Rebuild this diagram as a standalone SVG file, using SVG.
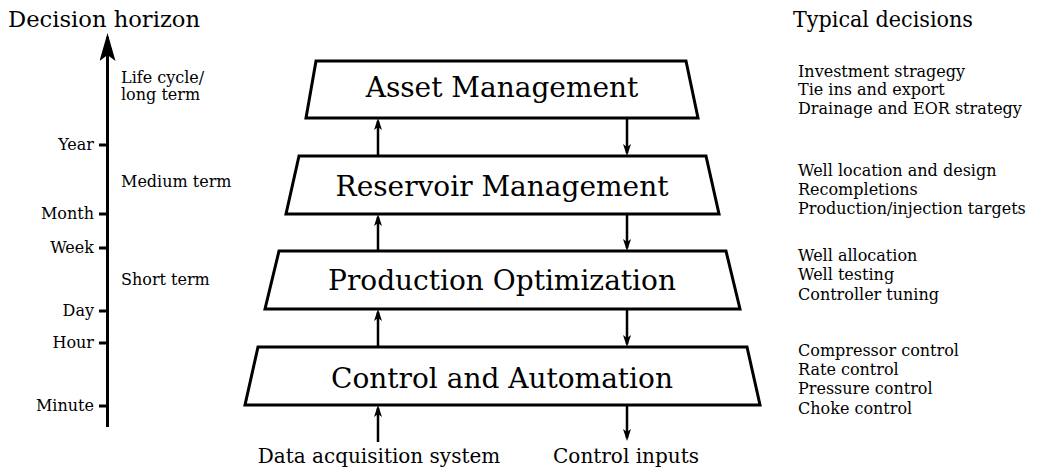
<svg xmlns="http://www.w3.org/2000/svg" width="1044" height="472" viewBox="0 0 1044 472">
<defs>
<style>
text{font-family:"DejaVu Serif","Liberation Serif",serif;fill:#000}
.title{font-size:22.5px}
.box{fill:#fff;stroke:#000;stroke-width:3;stroke-linejoin:miter}
.bt{font-size:28px;text-anchor:middle}
.sm{font-size:16px}
.tl{font-size:16px;text-anchor:end}
.io{font-size:20px;text-anchor:middle}
.con{stroke:#000;stroke-width:2.5;fill:none}
.tick{stroke:#000;stroke-width:3}
</style>
<marker id="ah" viewBox="0 0 12 8" refX="9" refY="4" markerWidth="12" markerHeight="8" markerUnits="userSpaceOnUse" orient="auto">
<path d="M0,0 L12,4 L0,8 L3,4 z" fill="#000"/>
</marker>
<marker id="big" viewBox="0 0 28 16" refX="24" refY="8" markerWidth="28" markerHeight="16" markerUnits="userSpaceOnUse" orient="auto">
<path d="M0,0 L28,8 L0,16 L6,8 z" fill="#000"/>
</marker>
</defs>
<text class="title" x="8" y="27" textLength="192" lengthAdjust="spacingAndGlyphs">Decision horizon</text>
<text class="title" x="793" y="27" textLength="180" lengthAdjust="spacingAndGlyphs">Typical decisions</text>
<g id="axis">
<line class="con" x1="107.5" y1="427" x2="107.5" y2="37" style="stroke-width:3" marker-end="url(#big)"/>
<line class="tick" x1="99" y1="145" x2="107" y2="145"/>
<line class="tick" x1="99" y1="214" x2="107" y2="214"/>
<line class="tick" x1="99" y1="248" x2="107" y2="248"/>
<line class="tick" x1="99" y1="311" x2="107" y2="311"/>
<line class="tick" x1="99" y1="343" x2="107" y2="343"/>
<line class="tick" x1="99" y1="406" x2="107" y2="406"/>
<text class="tl" x="94" y="150">Year</text>
<text class="tl" x="94" y="219">Month</text>
<text class="tl" x="94" y="253">Week</text>
<text class="tl" x="94" y="316">Day</text>
<text class="tl" x="94" y="348">Hour</text>
<text class="tl" x="94" y="411">Minute</text>
<text class="sm" x="121" y="83">Life cycle/</text>
<text class="sm" x="121" y="100">long term</text>
<text class="sm" x="121" y="187">Medium term</text>
<text class="sm" x="121" y="285">Short term</text>
</g>
<g id="asset-management">
<polygon class="box" points="316,61 686,61 698,118 306,118"/>
<text class="bt" x="502" y="97">Asset Management</text>
</g>
<g id="reservoir-management">
<polygon class="box" points="299,156 706,156 719,214 286,214"/>
<text class="bt" x="502" y="196">Reservoir Management</text>
</g>
<g id="production-optimization">
<polygon class="box" points="279,251 726,251 740,309 265,309"/>
<text class="bt" x="502" y="290">Production Optimization</text>
</g>
<g id="control-automation">
<polygon class="box" points="258,347 747,347 760,405 245,405"/>
<text class="bt" x="502" y="388">Control and Automation</text>
</g>
<g id="connectors">
<line class="con" x1="378" y1="156" x2="378" y2="121" marker-end="url(#ah)"/>
<line class="con" x1="627" y1="118" x2="627" y2="153" marker-end="url(#ah)"/>
<line class="con" x1="378" y1="251" x2="378" y2="217" marker-end="url(#ah)"/>
<line class="con" x1="627" y1="214" x2="627" y2="248" marker-end="url(#ah)"/>
<line class="con" x1="378" y1="347" x2="378" y2="312" marker-end="url(#ah)"/>
<line class="con" x1="627" y1="309" x2="627" y2="344" marker-end="url(#ah)"/>
<line class="con" x1="378" y1="442" x2="378" y2="408" marker-end="url(#ah)"/>
<line class="con" x1="627" y1="405" x2="627" y2="438" marker-end="url(#ah)"/>
</g>
<text class="io" x="379" y="463">Data acquisition system</text>
<text class="io" x="626" y="463">Control inputs</text>
<g id="decisions">
<text class="sm" x="798" y="77">Investment stragegy</text>
<text class="sm" x="798" y="95">Tie ins and export</text>
<text class="sm" x="798" y="114">Drainage and EOR strategy</text>
<text class="sm" x="798" y="176">Well location and design</text>
<text class="sm" x="798" y="195">Recompletions</text>
<text class="sm" x="798" y="214">Production/injection targets</text>
<text class="sm" x="798" y="261">Well allocation</text>
<text class="sm" x="798" y="280">Well testing</text>
<text class="sm" x="798" y="300">Controller tuning</text>
<text class="sm" x="798" y="356">Compressor control</text>
<text class="sm" x="798" y="375">Rate control</text>
<text class="sm" x="798" y="394">Pressure control</text>
<text class="sm" x="798" y="414">Choke control</text>
</g>
</svg>
